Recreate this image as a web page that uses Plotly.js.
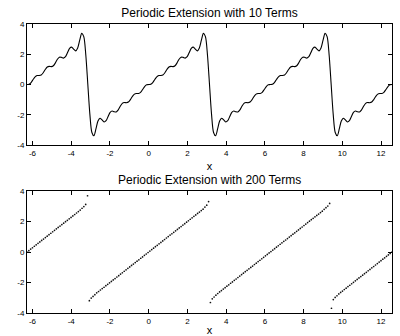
<!DOCTYPE html>
<html>
<head>
<meta charset="utf-8">
<script src="https://cdn.plot.ly/plotly-3.0.1.min.js"></script>
<style>html,body{margin:0;padding:0;background:#fff;}#chart{width:400px;height:336px;}</style>
</head>
<body>
<div id="chart"></div>
<script>
// Titles and tick labels
var titleTop = 'Periodic Extension with 10 Terms';
var titleBottom = 'Periodic Extension with 200 Terms';
var xLabel = 'x';
var xTickVals = [-6, -4, -2, 0, 2, 4, 6, 8, 10, 12];
var xTickText = ['-6', '-4', '-2', '0', '2', '4', '6', '8', '10', '12'];
var yTickVals = [-4, -2, 0, 2, 4];
var yTickText = ['-4', '-2', '0', '2', '4'];

// Sampling of the x axis (start and step), range is [-2pi, 4pi]
var xStart = -2 * Math.PI;
var xEnd = 4 * Math.PI;
var topStep = Math.PI / 30;          // 181 samples
var bottomStep = 6 * Math.PI / 199;  // 200 samples

// 10-term partial sum, sampled from -2pi to 4pi
var top10 = [
  0, 0.020, 0.132, 0.330, 0.512, 0.592, 0.596, 0.632, 0.778, 0.993,
  1.157, 1.200, 1.184, 1.241, 1.432, 1.671, 1.809, 1.795, 1.748, 1.840,
  2.110, 2.390, 2.470, 2.339, 2.223, 2.414, 2.934, 3.383, 3.165, 1.952, 0,
  -1.952, -3.165, -3.383, -2.934, -2.414, -2.223, -2.339, -2.470, -2.390, -2.110,
  -1.840, -1.748, -1.795, -1.809, -1.671, -1.432, -1.241, -1.184, -1.200, -1.157,
  -0.993, -0.778, -0.632, -0.596, -0.592, -0.512, -0.330, -0.132, -0.020, 0,
  0.020, 0.132, 0.330, 0.512, 0.592, 0.596, 0.632, 0.778, 0.993, 1.157,
  1.200, 1.184, 1.241, 1.432, 1.671, 1.809, 1.795, 1.748, 1.840, 2.110,
  2.390, 2.470, 2.339, 2.223, 2.414, 2.934, 3.383, 3.165, 1.952, 0,
  -1.952, -3.165, -3.383, -2.934, -2.414, -2.223, -2.339, -2.470, -2.390, -2.110,
  -1.840, -1.748, -1.795, -1.809, -1.671, -1.432, -1.241, -1.184, -1.200, -1.157,
  -0.993, -0.778, -0.632, -0.596, -0.592, -0.512, -0.330, -0.132, -0.020, 0,
  0.020, 0.132, 0.330, 0.512, 0.592, 0.596, 0.632, 0.778, 0.993, 1.157,
  1.200, 1.184, 1.241, 1.432, 1.671, 1.809, 1.795, 1.748, 1.840, 2.110,
  2.390, 2.470, 2.339, 2.223, 2.414, 2.934, 3.383, 3.165, 1.952, 0,
  -1.952, -3.165, -3.383, -2.934, -2.414, -2.223, -2.339, -2.470, -2.390, -2.110,
  -1.840, -1.748, -1.795, -1.809, -1.671, -1.432, -1.241, -1.184, -1.200, -1.157,
  -0.993, -0.778, -0.632, -0.596, -0.592, -0.512, -0.330, -0.132, -0.020, 0
];

// 200-term partial sum, 200 samples from -2pi to 4pi
var bottom200 = [
  0, 0.09, 0.19, 0.28, 0.38, 0.47, 0.57, 0.66, 0.76, 0.85,
  0.95, 1.04, 1.14, 1.23, 1.33, 1.42, 1.52, 1.61, 1.70, 1.80,
  1.89, 1.99, 2.08, 2.18, 2.27, 2.37, 2.46, 2.56, 2.65, 2.75,
  2.87, 2.98, 3.12, 3.69,
  -3.19, -3.02, -2.91, -2.80, -2.68, -2.59, -2.49, -2.40, -2.31, -2.21,
  -2.12, -2.02, -1.93, -1.83, -1.74, -1.64, -1.55, -1.45, -1.36, -1.26,
  -1.17, -1.07, -0.98, -0.88, -0.79, -0.69, -0.60, -0.51, -0.41, -0.32,
  -0.22, -0.13, -0.03, 0.06, 0.16, 0.25, 0.35, 0.44, 0.54, 0.63,
  0.73, 0.82, 0.92, 1.01, 1.11, 1.20, 1.29, 1.39, 1.48, 1.58,
  1.67, 1.77, 1.86, 1.96, 2.05, 2.15, 2.24, 2.34, 2.43, 2.53,
  2.62, 2.72, 2.81, 2.95, 3.07, 3.31,
  -3.31, -3.07, -2.95, -2.83, -2.72, -2.62, -2.53, -2.43, -2.34, -2.24,
  -2.15, -2.05, -1.96, -1.86, -1.77, -1.67, -1.58, -1.48, -1.39, -1.29,
  -1.20, -1.10, -1.01, -0.92, -0.82, -0.73, -0.63, -0.54, -0.44, -0.35,
  -0.25, -0.16, -0.06, 0.03, 0.13, 0.22, 0.32, 0.41, 0.51, 0.60,
  0.70, 0.79, 0.88, 0.98, 1.07, 1.17, 1.26, 1.36, 1.45, 1.55,
  1.64, 1.74, 1.83, 1.93, 2.02, 2.12, 2.21, 2.31, 2.40, 2.49,
  2.59, 2.68, 2.80, 2.91, 3.02, 3.19,
  -3.69, -3.12, -2.98, -2.87, -2.75, -2.65, -2.56, -2.46, -2.37, -2.27,
  -2.18, -2.08, -1.99, -1.89, -1.80, -1.70, -1.61, -1.52, -1.42, -1.33,
  -1.23, -1.14, -1.04, -0.95, -0.85, -0.76, -0.66, -0.57, -0.47, -0.38,
  -0.28, -0.19, -0.09, 0
];

var traces = [
  {
    type: 'scatter', mode: 'lines',
    x0: xStart, dx: topStep, y: top10,
    xaxis: 'x', yaxis: 'y',
    line: {color: '#000000', width: 1.1, shape: 'spline', smoothing: 0.8},
    hoverinfo: 'skip'
  },
  {
    type: 'scatter', mode: 'markers',
    x0: xStart, dx: bottomStep, y: bottom200,
    xaxis: 'x2', yaxis: 'y2',
    marker: {color: '#111111', size: 1.7, line: {width: 0}},
    hoverinfo: 'skip'
  }
];

function xAxis(anchor, standoff) {
  return {
    anchor: anchor, domain: [0, 1],
    range: [xStart, xEnd],
    tickmode: 'array', tickvals: xTickVals, ticktext: xTickText,
    ticks: 'inside', ticklen: 4, tickwidth: 1, tickcolor: '#000',
    showline: true, linecolor: '#000', linewidth: 1, mirror: 'ticks',
    showgrid: false, zeroline: false,
    tickfont: {size: 8, color: '#000'},
    title: {text: xLabel, font: {size: 11, color: '#000'}, standoff: standoff}
  };
}
function yAxis(anchor, domain) {
  return {
    anchor: anchor, domain: domain,
    range: [-4, 4],
    tickmode: 'array', tickvals: yTickVals, ticktext: yTickText,
    ticks: 'inside', ticklen: 4, tickwidth: 1, tickcolor: '#000',
    showline: true, linecolor: '#000', linewidth: 1, mirror: 'ticks',
    showgrid: false, zeroline: false,
    tickfont: {size: 8, color: '#000'}
  };
}

var layout = {
  width: 400, height: 336,
  margin: {l: 27, r: 8, t: 24, b: 23, pad: 0},
  paper_bgcolor: '#ffffff', plot_bgcolor: '#ffffff',
  font: {family: 'Liberation Sans, Arial, Helvetica, sans-serif', size: 8, color: '#000'},
  showlegend: false,
  title: {text: titleTop, font: {size: 12, color: '#000'}, x: 0.5, xref: 'paper', xanchor: 'center',
          y: 1 - 13 / 336, yref: 'container', yanchor: 'middle'},
  xaxis: xAxis('y', 5),
  yaxis: yAxis('x', [0.581, 1]),
  xaxis2: xAxis('y2', 6),
  yaxis2: yAxis('x2', [0, 0.422]),
  annotations: [{
    text: titleBottom, xref: 'paper', yref: 'paper', x: 0.5, y: 0.460,
    xanchor: 'center', yanchor: 'middle', showarrow: false,
    font: {size: 12, color: '#000'}
  }]
};

Plotly.newPlot('chart', traces, layout, {staticPlot: true, displayModeBar: false});
</script>
</body>
</html>
